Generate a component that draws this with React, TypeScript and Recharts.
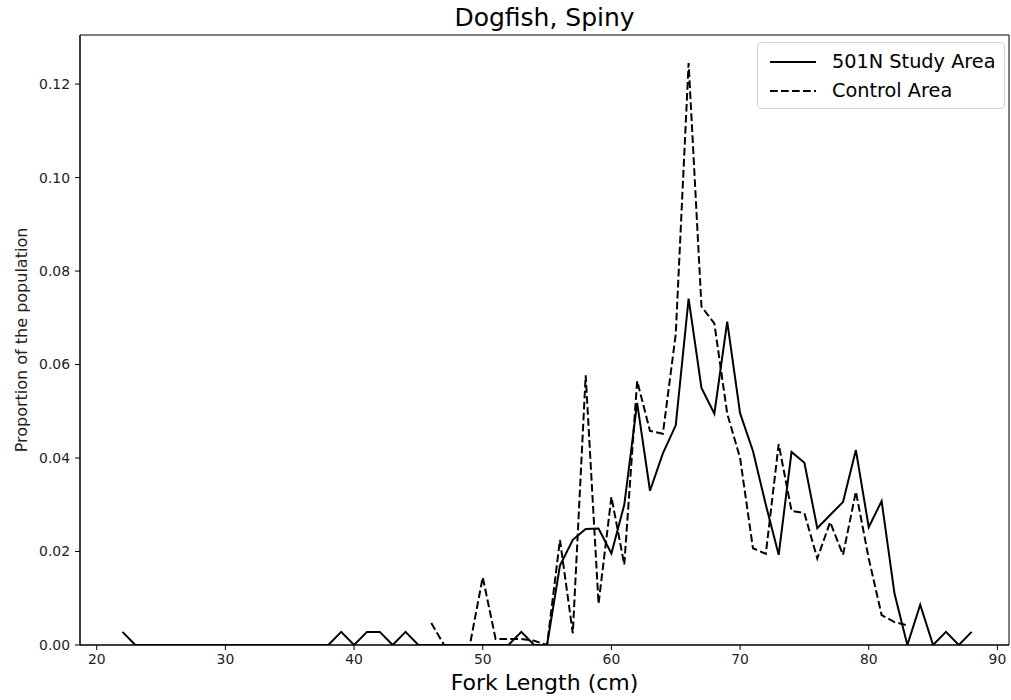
import React from 'react';
import { LineChart, Line, XAxis, YAxis, Legend, ReferenceArea } from 'recharts';

// Fork length bins (cm)
const lengths = [
  22, 23, 24, 25, 26, 27, 28, 29, 30, 31, 32, 33, 34, 35, 36, 37, 38, 39, 40, 41,
  42, 43, 44, 45, 46, 47, 48, 49, 50, 51, 52, 53, 54, 55, 56, 57, 58, 59, 60, 61,
  62, 63, 64, 65, 66, 67, 68, 69, 70, 71, 72, 73, 74, 75, 76, 77, 78, 79, 80, 81,
  82, 83, 84, 85, 86, 87, 88,
];

// 501N Study Area proportions, one per bin above
const studyArea = [
  0.0028, 0, 0, 0, 0, 0, 0, 0, 0, 0, 0, 0, 0, 0, 0, 0, 0, 0.0028, 0, 0.0028,
  0.0028, 0, 0.0028, 0, 0, 0, 0, 0, 0, 0, 0, 0.0028, 0, 0, 0.017, 0.0225, 0.0248, 0.0249, 0.0196, 0.030,
  0.0518, 0.033, 0.041, 0.047, 0.0741, 0.055, 0.0495, 0.0692, 0.0496, 0.0415, 0.030, 0.0193, 0.0413, 0.039, 0.025, 0.0278, 0.0306, 0.0417, 0.0252, 0.0308,
  0.011, 0, 0.0086, 0, 0.0028, 0, 0.0028,
];

// Control Area proportions (null = no fish in the sample range)
const controlArea = [
  null, null, null, null, null, null, null, null, null, null, null, null, null, null, null, null, null, null, null, null,
  null, null, null, null, 0.0047, 0, 0, 0, 0.0145, 0.0013, 0.0013, 0.0013, 0.0009, 0, 0.0225, 0.0025, 0.0577, 0.0088, 0.0317, 0.0172,
  0.0565, 0.0458, 0.0452, 0.0665, 0.1245, 0.0724, 0.0688, 0.0495, 0.040, 0.0207, 0.0195, 0.043, 0.0287, 0.0282, 0.0185, 0.0263, 0.0193, 0.0328, 0.0185, 0.0064,
  0.0049, 0.0042, null, null, null, null, null,
];

const xTicks = [20, 30, 40, 50, 60, 70, 80, 90];
const yTicks = [0, 0.02, 0.04, 0.06, 0.08, 0.1, 0.12];

const X_DOMAIN: [number, number] = [18.7, 90.9];
const Y_DOMAIN: [number, number] = [0, 0.1305];

const data = lengths.map((len, i) => ({
  len,
  study: studyArea[i],
  control: controlArea[i],
}));

const FONT = '"DejaVu Sans", sans-serif';
const DASH = '7.7 3.3';

const renderLegend = () => (
  <div
    style={{
      border: '1px solid #d4d4d4',
      borderRadius: 4,
      background: 'rgba(255,255,255,0.8)',
      padding: '4px 8px 3px 12px',
      fontFamily: FONT,
      fontSize: 19.3,
      color: '#000',
      width: 226,
    }}
  >
    {[
      { label: '501N Study Area', dash: undefined },
      { label: 'Control Area', dash: DASH },
    ].map((item) => (
      <div key={item.label} style={{ display: 'flex', alignItems: 'center', height: 29 }}>
        <svg width={46} height={10} style={{ marginRight: 16 }}>
          <line x1={0} y1={5} x2={46} y2={5} stroke="#000" strokeWidth={2} strokeDasharray={item.dash} />
        </svg>
        <span>{item.label}</span>
      </div>
    ))}
  </div>
);

const App: React.FC = () => {
  return (
    <div style={{ position: 'absolute', left: 0, top: 0, width: 1011, height: 700, background: '#fff' }}>
      <div
        style={{
          position: 'absolute',
          left: 80,
          width: 929,
          top: 5,
          textAlign: 'center',
          fontFamily: FONT,
          fontSize: 25,
          lineHeight: '25px',
          color: '#000',
        }}
      >
        Dogfish, Spiny
      </div>
      <LineChart width={1011} height={700} data={data} margin={{ top: 35, right: 2, left: 0, bottom: 0 }}>
        <XAxis
          dataKey="len"
          type="number"
          domain={X_DOMAIN}
          ticks={xTicks}
          allowDataOverflow
          height={55}
          stroke="#000"
          tickSize={5}
          tickMargin={4}
          tick={{ fill: '#222', fontSize: 13.9, fontFamily: FONT }}
          label={(props: any) => {
            const vb = props.viewBox;
            return (
              <text
                x={vb.x + vb.width / 2}
                y={vb.y + 45}
                textAnchor="middle"
                fontFamily={FONT}
                fontSize={22}
                fill="#000"
              >
                Fork Length (cm)
              </text>
            );
          }}
        />
        <YAxis
          type="number"
          domain={Y_DOMAIN}
          ticks={yTicks}
          allowDataOverflow
          width={80}
          stroke="#000"
          tickSize={5}
          tickMargin={5}
          tickFormatter={(v: number) => v.toFixed(2)}
          tick={{ fill: '#222', fontSize: 13.9, fontFamily: FONT }}
          label={(props: any) => {
            const vb = props.viewBox;
            const cy = vb.y + vb.height / 2;
            return (
              <text
                x={27}
                y={cy}
                transform={`rotate(-90, 27, ${cy})`}
                textAnchor="middle"
                fontFamily={FONT}
                fontSize={16}
                fill="#222"
              >
                Proportion of the population
              </text>
            );
          }}
        />
        {/* full frame around the plot, like matplotlib spines */}
        <ReferenceArea
          x1={X_DOMAIN[0]}
          x2={X_DOMAIN[1]}
          y1={Y_DOMAIN[0]}
          y2={Y_DOMAIN[1]}
          fill="none"
          stroke="#000"
          strokeWidth={1}
          ifOverflow="visible"
        />
        <Legend
          layout="horizontal"
          verticalAlign="middle"
          content={renderLegend}
          wrapperStyle={{ position: 'absolute', left: 757, top: 42, width: 'auto' }}
        />
        <Line
          type="linear"
          dataKey="study"
          name="501N Study Area"
          stroke="#000"
          strokeWidth={2}
          dot={false}
          activeDot={false}
          isAnimationActive={false}
        />
        <Line
          type="linear"
          dataKey="control"
          name="Control Area"
          stroke="#000"
          strokeWidth={2}
          strokeDasharray={DASH}
          dot={false}
          activeDot={false}
          connectNulls={false}
          isAnimationActive={false}
        />
      </LineChart>
    </div>
  );
};

export default App;
